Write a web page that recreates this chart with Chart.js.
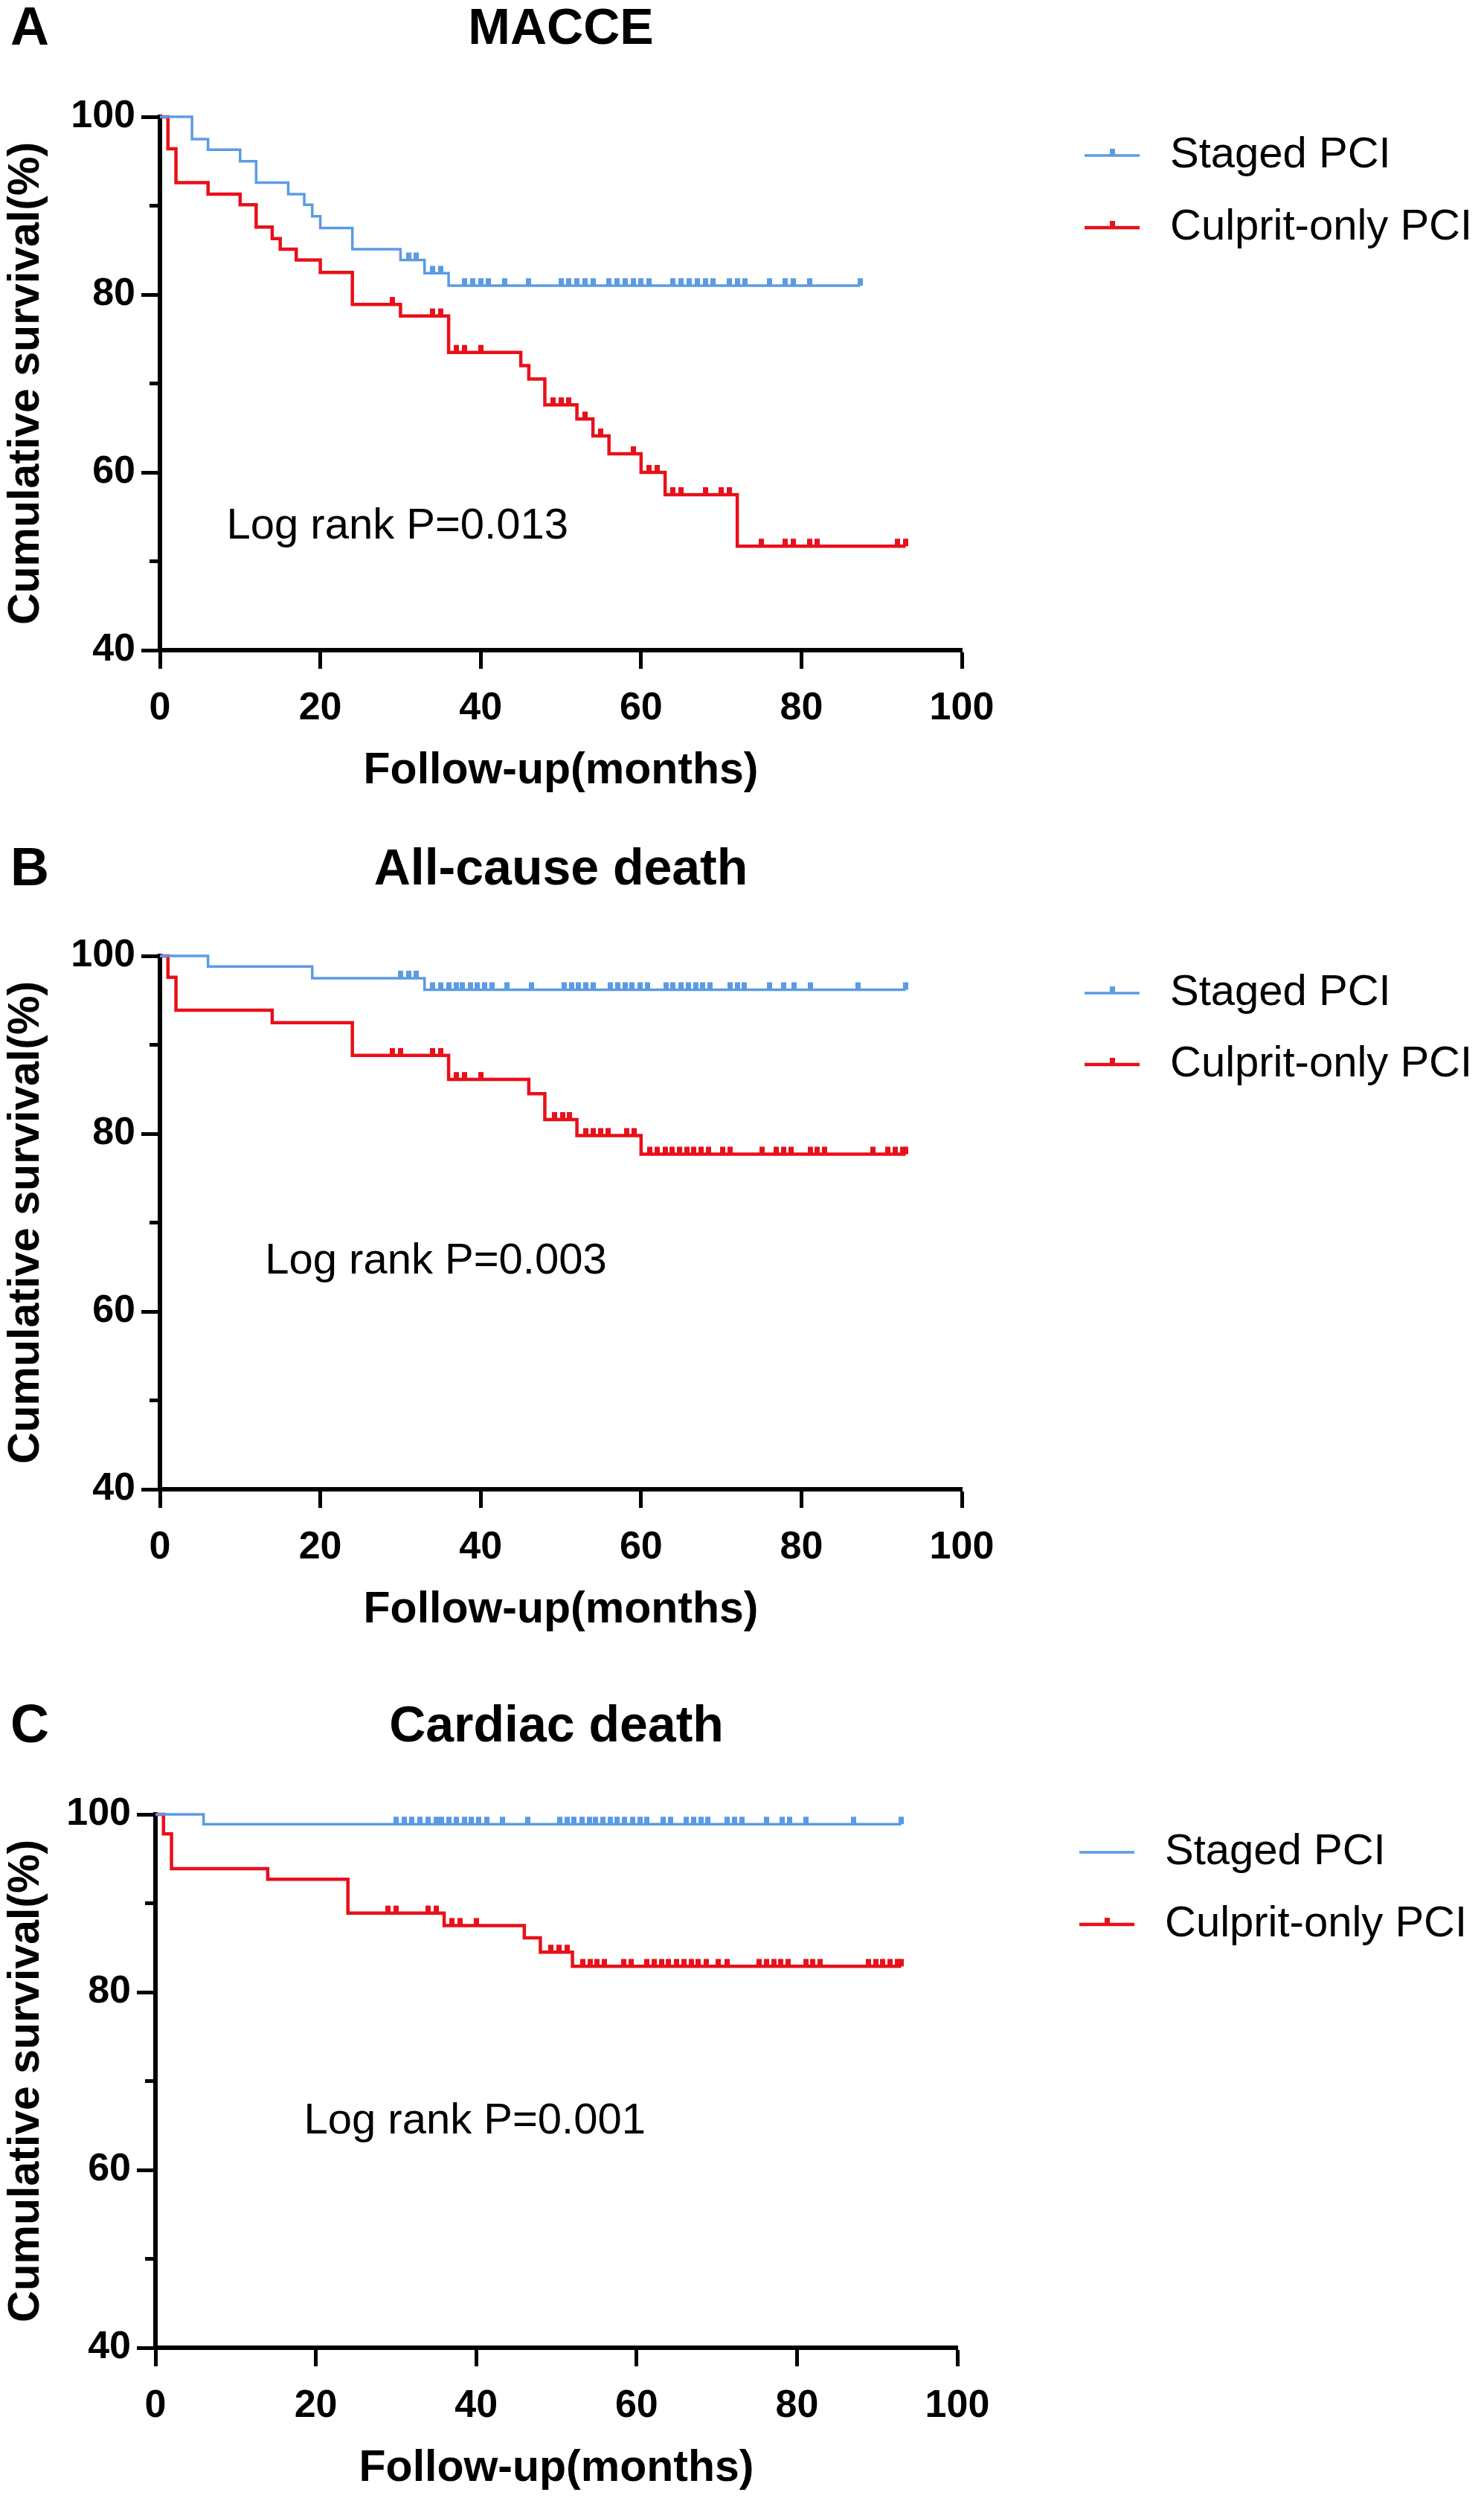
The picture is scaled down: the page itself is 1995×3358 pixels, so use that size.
<!DOCTYPE html>
<html>
<head>
<meta charset="utf-8">
<script src="https://cdn.jsdelivr.net/npm/chart.js@4.4.1/dist/chart.umd.min.js"></script>
<style>
  body { margin: 0; background: #fff; }
  .panel { position: absolute; left: 0; width: 1995px; }
</style>
</head>
<body>
<div class="panel" style="top:0;height:1128px"><canvas id="chart-a"></canvas></div>
<div class="panel" style="top:1128px;height:1154px"><canvas id="chart-b"></canvas></div>
<div class="panel" style="top:2282px;height:1076px"><canvas id="chart-c"></canvas></div>
<script>
// KM curves: event times (months) + survival (%) after each step, censor times

// A - MACCE
const maceStagedT = [0, 4, 6, 10, 12, 16, 18, 19, 20, 24, 30, 33, 36, 87.3];
const maceStagedS = [100, 97.5, 96.3, 95.0, 92.6, 91.3, 90.1, 88.8, 87.5, 85.1, 83.9, 82.4, 81.0, 81.0];
const maceStagedCens = [31, 32, 34, 35, 38, 39, 40, 41, 43, 46, 50, 51, 52, 53, 54, 56, 57, 58, 59, 60, 61, 64, 65, 66, 67, 68, 69, 71, 72, 73, 76, 78, 79, 81, 87.3];
const maceCulpritT = [0, 1, 2, 6, 10, 12, 14, 15, 17, 20, 24, 30, 36, 45, 46, 48, 52, 54, 56, 60, 63, 72, 93];
const maceCulpritS = [100, 96.4, 92.6, 91.3, 90.1, 87.6, 86.3, 85.1, 83.9, 82.5, 78.9, 77.6, 73.5, 72.0, 70.5, 67.6, 66.0, 64.1, 62.1, 60.0, 57.5, 51.7, 51.7];
const maceCulpritCens = [29, 34, 35, 37, 38, 40, 49, 50, 51, 53, 55, 59, 61, 62, 64, 65, 68, 70, 71, 75, 78, 79, 81, 82, 92, 93];

// B - All-cause death
const deathStagedT = [0, 6, 19, 33, 93];
const deathStagedS = [100, 98.8, 97.5, 96.2, 96.2];
const deathStagedCens = [30, 31, 32, 34, 35, 36, 37, 37.7, 38.7, 39.6, 40.5, 41.4, 43.3, 46.3, 50.4, 51.3, 52.2, 53.1, 54, 56.2, 57.1, 58, 58.9, 59.9, 60.8, 63.1, 64, 65, 65.9, 66.8, 67.7, 68.6, 71.1, 72, 72.9, 76, 77.8, 79.1, 81.1, 87.1, 93];
const deathCulpritT = [0, 1, 2, 14, 24, 36, 46, 48, 52, 60, 93];
const deathCulpritS = [100, 97.6, 93.9, 92.5, 88.8, 86.1, 84.5, 81.6, 79.8, 77.7, 77.7];
const deathCulpritCens = [29, 30, 34, 35, 37, 38, 40, 49.2, 50.2, 51.1, 53.1, 54, 55, 55.9, 58.2, 59.1, 61.1, 62, 63, 63.9, 64.8, 65.7, 66.6, 67.5, 68.4, 70.2, 71.1, 75.1, 76.9, 77.8, 78.7, 81.1, 82, 82.9, 88.9, 90.8, 91.7, 92.6, 93];

// C - Cardiac death
const cardStagedT = [0, 6, 93];
const cardStagedS = [100, 98.9, 98.9];
const cardStagedCens = [30, 31, 32, 33, 34, 35, 35.7, 36.6, 37.5, 38.5, 39.4, 40.3, 41.3, 43.3, 46.4, 50.4, 51.3, 52.2, 53.2, 54.1, 54.9, 55.8, 56.7, 57.6, 58.5, 59.5, 60.4, 61.3, 63.3, 64.2, 66.2, 67.1, 68, 68.9, 71.3, 72.2, 73.1, 76.2, 78.2, 79.1, 81.1, 87.1, 93];
const cardCulpritT = [0, 1, 2, 14, 24, 36, 46, 48, 52, 93];
const cardCulpritS = [100, 97.8, 93.9, 92.7, 88.9, 87.5, 86.1, 84.5, 82.9, 82.9];
const cardCulpritCens = [29, 30, 34, 35, 37, 38, 40, 49.3, 50.3, 51.3, 53.3, 54.2, 55.1, 56, 58.4, 59.3, 61.3, 62.2, 63.1, 64, 65, 65.9, 66.8, 67.7, 68.7, 70.2, 71.3, 75.3, 76.2, 77.1, 78, 78.9, 81.1, 82, 82.9, 88.9, 89.8, 90.7, 91.6, 92.5, 93];

// shared labels
const seriesNames = ['Staged PCI', 'Culprit-only PCI'];
const panelLetters = ['A', 'B', 'C'];
const panelTitles = ['MACCE', 'All-cause death', 'Cardiac death'];
const logRankTexts = ['Log rank P=0.013', 'Log rank P=0.003', 'Log rank P=0.001'];
const yMajor = [40, 60, 80, 100];
const yMinor = [50, 70, 90];

const FONT = "'Liberation Sans', Arial, Helvetica, sans-serif";
const COLORS = ['#5b9be3', '#e8101a'];
const WIDTHS = [3.5, 4.5];
Chart.defaults.font.family = FONT;
Chart.defaults.color = '#000';

const panels = [
  { canvas: 'chart-a', height: 1128, left: 215, right: 1293, titleY: 40, legendX: 1458, legendRows: [209, 306], log: [8.3, 53.9],
    curves: [{ t: maceStagedT, s: maceStagedS, cens: maceStagedCens, mark: true }, { t: maceCulpritT, s: maceCulpritS, cens: maceCulpritCens, mark: true }] },
  { canvas: 'chart-b', height: 1154, left: 215, right: 1293, titleY: 42, legendX: 1458, legendRows: [207, 303], log: [13.1, 65.6],
    curves: [{ t: deathStagedT, s: deathStagedS, cens: deathStagedCens, mark: true }, { t: deathCulpritT, s: deathCulpritS, cens: deathCulpritCens, mark: true }] },
  { canvas: 'chart-c', height: 1076, left: 209, right: 1287, titleY: 40, legendX: 1451, legendRows: [208, 305], log: [18.5, 65.4],
    curves: [{ t: cardStagedT, s: cardStagedS, cens: cardStagedCens, mark: false }, { t: cardCulpritT, s: cardCulpritS, cens: cardCulpritCens, mark: true }] }
];

const PLOT_TOP = 157, PLOT_H = 717, XAXIS_H = 198;

function survAt(T, S, t) {
  let v = S[0];
  for (let i = 0; i < T.length; i++) if (T[i] <= t) v = S[i];
  return v;
}

// small upward tick used for censored observations
function censorMark(color) {
  const c = document.createElement('canvas');
  c.width = 7; c.height = 22;
  const g = c.getContext('2d');
  g.fillStyle = color;
  g.fillRect(0, 1, 7, 10);
  return c;
}

const panelDecor = {
  id: 'panelDecor',
  afterDraw(chart, args, o) {
    const ctx = chart.ctx;
    const { left, right } = chart.chartArea;
    const xs = chart.scales.x, ys = chart.scales.y;
    ctx.save();
    // minor y ticks
    ctx.strokeStyle = '#000';
    ctx.lineWidth = 5;
    yMinor.forEach(v => {
      const py = ys.getPixelForValue(v);
      ctx.beginPath(); ctx.moveTo(left - 14, py); ctx.lineTo(left, py); ctx.stroke();
    });
    // panel letter + title
    ctx.fillStyle = '#000';
    ctx.textBaseline = 'middle';
    ctx.textAlign = 'left';
    ctx.font = 'bold 72px ' + FONT;
    ctx.fillText(o.letter, 14, o.titleY);
    ctx.textAlign = 'center';
    ctx.font = 'bold 68px ' + FONT;
    ctx.fillText(o.title, (left + right) / 2, o.titleY);
    // log rank annotation
    ctx.textAlign = 'left';
    ctx.font = '58px ' + FONT;
    ctx.fillText(o.logText, xs.getPixelForValue(o.log[0]), ys.getPixelForValue(o.log[1]));
    // legend
    chart.data.datasets.filter(d => d.isCurve).forEach((d, i) => {
      const y = o.legendRows[i];
      ctx.strokeStyle = d.borderColor;
      ctx.lineWidth = d.borderWidth;
      ctx.beginPath(); ctx.moveTo(o.legendX, y); ctx.lineTo(o.legendX + 74, y); ctx.stroke();
      if (d.legendMark) {
        ctx.fillStyle = d.borderColor;
        ctx.fillRect(o.legendX + 34, y - 9, 7, 9);
      }
      ctx.fillStyle = '#000';
      ctx.fillText(d.label, o.legendX + 115, y);
    });
    ctx.restore();
  }
};

function makePanel(p, idx) {
  const datasets = [];
  p.curves.forEach((c, i) => {
    datasets.push({
      label: seriesNames[i],
      data: c.t.map((t, j) => ({ x: t, y: c.s[j] })),
      borderColor: COLORS[i], borderWidth: WIDTHS[i],
      stepped: true, pointRadius: 0, fill: false, clip: false,
      isCurve: true, legendMark: c.mark
    });
    datasets.push({
      label: seriesNames[i] + ' (censored)',
      data: c.cens.map(t => ({ x: t, y: survAt(c.t, c.s, t) })),
      showLine: false, pointStyle: censorMark(COLORS[i]), pointRadius: 5, clip: false
    });
  });

  new Chart(document.getElementById(p.canvas), {
    type: 'line',
    data: { datasets },
    options: {
      responsive: true, maintainAspectRatio: false, animation: false, events: [],
      layout: { padding: { left: 0, top: PLOT_TOP, right: 1995 - p.right, bottom: p.height - PLOT_TOP - PLOT_H - XAXIS_H } },
      plugins: {
        legend: { display: false }, tooltip: { enabled: false },
        panelDecor: { letter: panelLetters[idx], title: panelTitles[idx], logText: logRankTexts[idx], log: p.log,
                      titleY: p.titleY, legendX: p.legendX, legendRows: p.legendRows }
      },
      scales: {
        x: {
          type: 'linear', min: 0, max: 100,
          ticks: { stepSize: 20, padding: 22, color: '#000', font: { size: 52, weight: 'bold' } },
          grid: { drawOnChartArea: false, drawTicks: true, tickLength: 25, tickWidth: 5, tickColor: '#000' },
          border: { display: true, color: '#000', width: 6 },
          title: { display: true, text: 'Follow-up(months)', color: '#000', padding: 0, font: { size: 59, weight: 'bold' } },
          afterFit(s) { s.height = XAXIS_H; }
        },
        y: {
          type: 'linear', min: 40, max: 100,
          ticks: { stepSize: 10, padding: 8, color: '#000', font: { size: 52, weight: 'bold' },
                   callback: v => yMajor.includes(v) ? String(v) : '' },
          grid: { drawOnChartArea: false, drawTicks: true, tickLength: 25, tickWidth: 5,
                  tickColor: c => (c.tick && yMajor.includes(c.tick.value)) ? '#000' : 'rgba(0,0,0,0)' },
          border: { display: true, color: '#000', width: 6 },
          title: { display: true, text: 'Cumulative survival(%)', color: '#000', padding: 0, font: { size: 59, weight: 'bold' } },
          afterFit(s) { s.width = p.left; }
        }
      }
    },
    plugins: [panelDecor]
  });
}

panels.forEach(makePanel);
</script>
</body>
</html>
